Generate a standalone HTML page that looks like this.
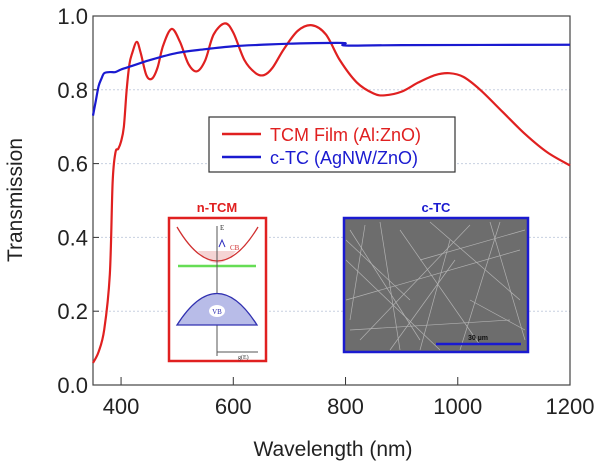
<!DOCTYPE html>
<html><head><meta charset="utf-8"><style>
body{margin:0;background:#fff;}
svg{display:block;font-family:"Liberation Sans",sans-serif;}
</style></head><body>
<svg id="chart" width="600" height="470" viewBox="0 0 600 470">
<g id="grid"></g>
<g id="axes"></g>
<g id="series"></g>
<g>
<rect x="209" y="117" width="246" height="55" fill="#fff" stroke="#333" stroke-width="1.2"/>
<line x1="222" y1="134" x2="261" y2="134" stroke="#e02020" stroke-width="2.5"/>
<text x="270" y="141" font-size="18" fill="#e02020">TCM Film (Al:ZnO)</text>
<line x1="222" y1="157" x2="261" y2="157" stroke="#1a1ad0" stroke-width="2.5"/>
<text x="270" y="164" font-size="18" fill="#1a1ad0">c-TC (AgNW/ZnO)</text>
</g>
<g>
<text x="217" y="212" font-size="13" font-weight="bold" fill="#e02020" text-anchor="middle">n-TCM</text>
<rect x="169" y="218" width="97" height="143" fill="#fff" stroke="#e02020" stroke-width="2.5"/>
<path d="M198,251 Q217,275 236,251Z" fill="#f3c9c9" opacity="0.8"/>
<path d="M177,227 Q217,295 258,227" fill="none" stroke="#d03030" stroke-width="1.3"/>
<line x1="178" y1="266" x2="256" y2="266" stroke="#66dd55" stroke-width="2.5"/>
<line x1="217" y1="226" x2="217" y2="356" stroke="#555" stroke-width="1"/>
<line x1="217" y1="352" x2="258" y2="352" stroke="#555" stroke-width="1"/>
<path d="M177,325 Q217,262 257,325Z" fill="#b8bce8" stroke="#3030b0" stroke-width="1.3"/>
<ellipse cx="217" cy="311" rx="8" ry="6" fill="#fff"/>
<text x="217" y="314" font-size="7" fill="#3030b0" text-anchor="middle" font-family="Liberation Serif,serif">VB</text>
<text x="230" y="250" font-size="7" fill="#d03030" font-family="Liberation Serif,serif">CB</text>
<text x="220" y="230" font-size="7" fill="#333" font-family="Liberation Serif,serif">E</text>
<text x="238" y="359" font-size="6" fill="#333" font-family="Liberation Serif,serif">g(E)</text>
<path d="M219,247 L222,240 L225,247" fill="none" stroke="#3030c0" stroke-width="1"/>
</g>
<g>
<text x="436" y="212" font-size="13" font-weight="bold" fill="#1a1ad0" text-anchor="middle">c-TC</text>
<rect x="344" y="218" width="184" height="134" fill="#6d6d6d" stroke="#1a1ad0" stroke-width="2.5"/>
<g stroke="#c8c8c8" stroke-width="0.7" opacity="0.75">
<line x1="350" y1="230" x2="420" y2="340"/><line x1="360" y1="340" x2="470" y2="225"/>
<line x1="380" y1="222" x2="400" y2="350"/><line x1="430" y1="222" x2="520" y2="300"/>
<line x1="346" y1="300" x2="520" y2="250"/><line x1="460" y1="350" x2="500" y2="222"/>
<line x1="400" y1="230" x2="480" y2="345"/><line x1="346" y1="260" x2="440" y2="350"/>
<line x1="490" y1="222" x2="525" y2="340"/><line x1="350" y1="330" x2="510" y2="320"/>
<line x1="365" y1="225" x2="350" y2="320"/><line x1="420" y1="260" x2="525" y2="230"/>
<line x1="450" y1="240" x2="420" y2="350"/><line x1="346" y1="240" x2="410" y2="300"/>
<line x1="470" y1="300" x2="525" y2="330"/><line x1="390" y1="350" x2="455" y2="260"/>
</g>
<line x1="436" y1="344" x2="521" y2="344" stroke="#1a1ad0" stroke-width="2.5"/>
<text x="478" y="340" font-size="7" font-weight="bold" fill="#111" text-anchor="middle">30 µm</text>
</g>
<text x="333" y="456" font-size="21" fill="#222" text-anchor="middle">Wavelength (nm)</text>
<text transform="translate(22,200) rotate(-90)" font-size="21" fill="#222" text-anchor="middle">Transmission</text>
</svg>
<script>
const xTicks=[400,600,800,1000,1200];
const yTicks=[0.0,0.2,0.4,0.6,0.8,1.0];
const tcmWl=[350,360,370,380,385,390,395,400,405,410,415,420,428,435,445,455,465,475,490,505,520,535,550,565,585,600,620,640,655,670,690,715,740,765,790,820,850,870,900,930,960,985,1010,1040,1080,1120,1160,1200];
const tcmT=[0.06,0.09,0.15,0.3,0.55,0.63,0.64,0.66,0.7,0.8,0.87,0.9,0.93,0.9,0.84,0.83,0.86,0.92,0.965,0.93,0.87,0.85,0.88,0.95,0.98,0.955,0.88,0.845,0.84,0.86,0.91,0.96,0.975,0.95,0.88,0.82,0.79,0.785,0.795,0.82,0.84,0.845,0.835,0.8,0.74,0.68,0.63,0.595];
const ctcWl=[350,355,360,365,370,380,390,400,420,450,500,550,600,650,700,795,800,900,1200];
const ctcT=[0.73,0.77,0.81,0.83,0.845,0.848,0.848,0.855,0.865,0.88,0.9,0.91,0.918,0.922,0.925,0.927,0.92,0.921,0.922];
const X0=93,X1=570,Y0=385,Y1=16;
const sx=v=>X0+(v-350)/(1200-350)*(X1-X0);
const sy=v=>Y0-v*(Y0-Y1);
const NS="http://www.w3.org/2000/svg";
function mk(tag,at,parent){const e=document.createElementNS(NS,tag);for(const k in at)e.setAttribute(k,at[k]);parent.appendChild(e);return e;}
const grid=document.getElementById('grid'),axes=document.getElementById('axes'),series=document.getElementById('series');
yTicks.forEach(t=>{
 if(t>0&&t<1){const g=mk('line',{x1:X0,x2:X1,y1:sy(t),y2:sy(t),stroke:'#c8d0e0','stroke-width':1,'stroke-dasharray':'2,2'},grid);
 
 }
 const tk=mk('line',{x1:X0,x2:X0+6,y1:sy(t),y2:sy(t),stroke:'#333'},axes);
 
 
 const l=mk('text',{x:X0-5,y:sy(t)+8,'font-size':22,fill:'#222','text-anchor':'end'},axes);
 l.textContent=t.toFixed(1);
 
 
});
xTicks.forEach(t=>{
 const tk=mk('line',{x1:sx(t),x2:sx(t),y1:Y0,y2:Y0-8,stroke:'#333'},axes);
 
 
 const l=mk('text',{x:sx(t),y:Y0+29,'font-size':22,fill:'#222','text-anchor':'middle'},axes);
 l.textContent=t;
 
 
});
const fr=mk('rect',{x:X0,y:Y1,width:X1-X0,height:Y0-Y1,fill:'none',stroke:'#444','stroke-width':1.2},axes);


function smooth(xs,ys){const p=xs.map((x,i)=>[sx(x),sy(ys[i])]);let d='M'+p[0][0]+','+p[0][1];
 for(let i=0;i<p.length-1;i++){const a=p[i-1]||p[i],b=p[i],c=p[i+1],e=p[i+2]||c;
 d+=` C${b[0]+(c[0]-a[0])/6},${b[1]+(c[1]-a[1])/6} ${c[0]-(e[0]-b[0])/6},${c[1]-(e[1]-b[1])/6} ${c[0]},${c[1]}`;}return d;}
const r=mk('path',{d:smooth(tcmWl,tcmT),fill:'none',stroke:'#e02020','stroke-width':2.2},series);


const b=mk('path',{d:smooth(ctcWl,ctcT),fill:'none',stroke:'#1a1ad0','stroke-width':2.2},series);


</script>
</body></html>
